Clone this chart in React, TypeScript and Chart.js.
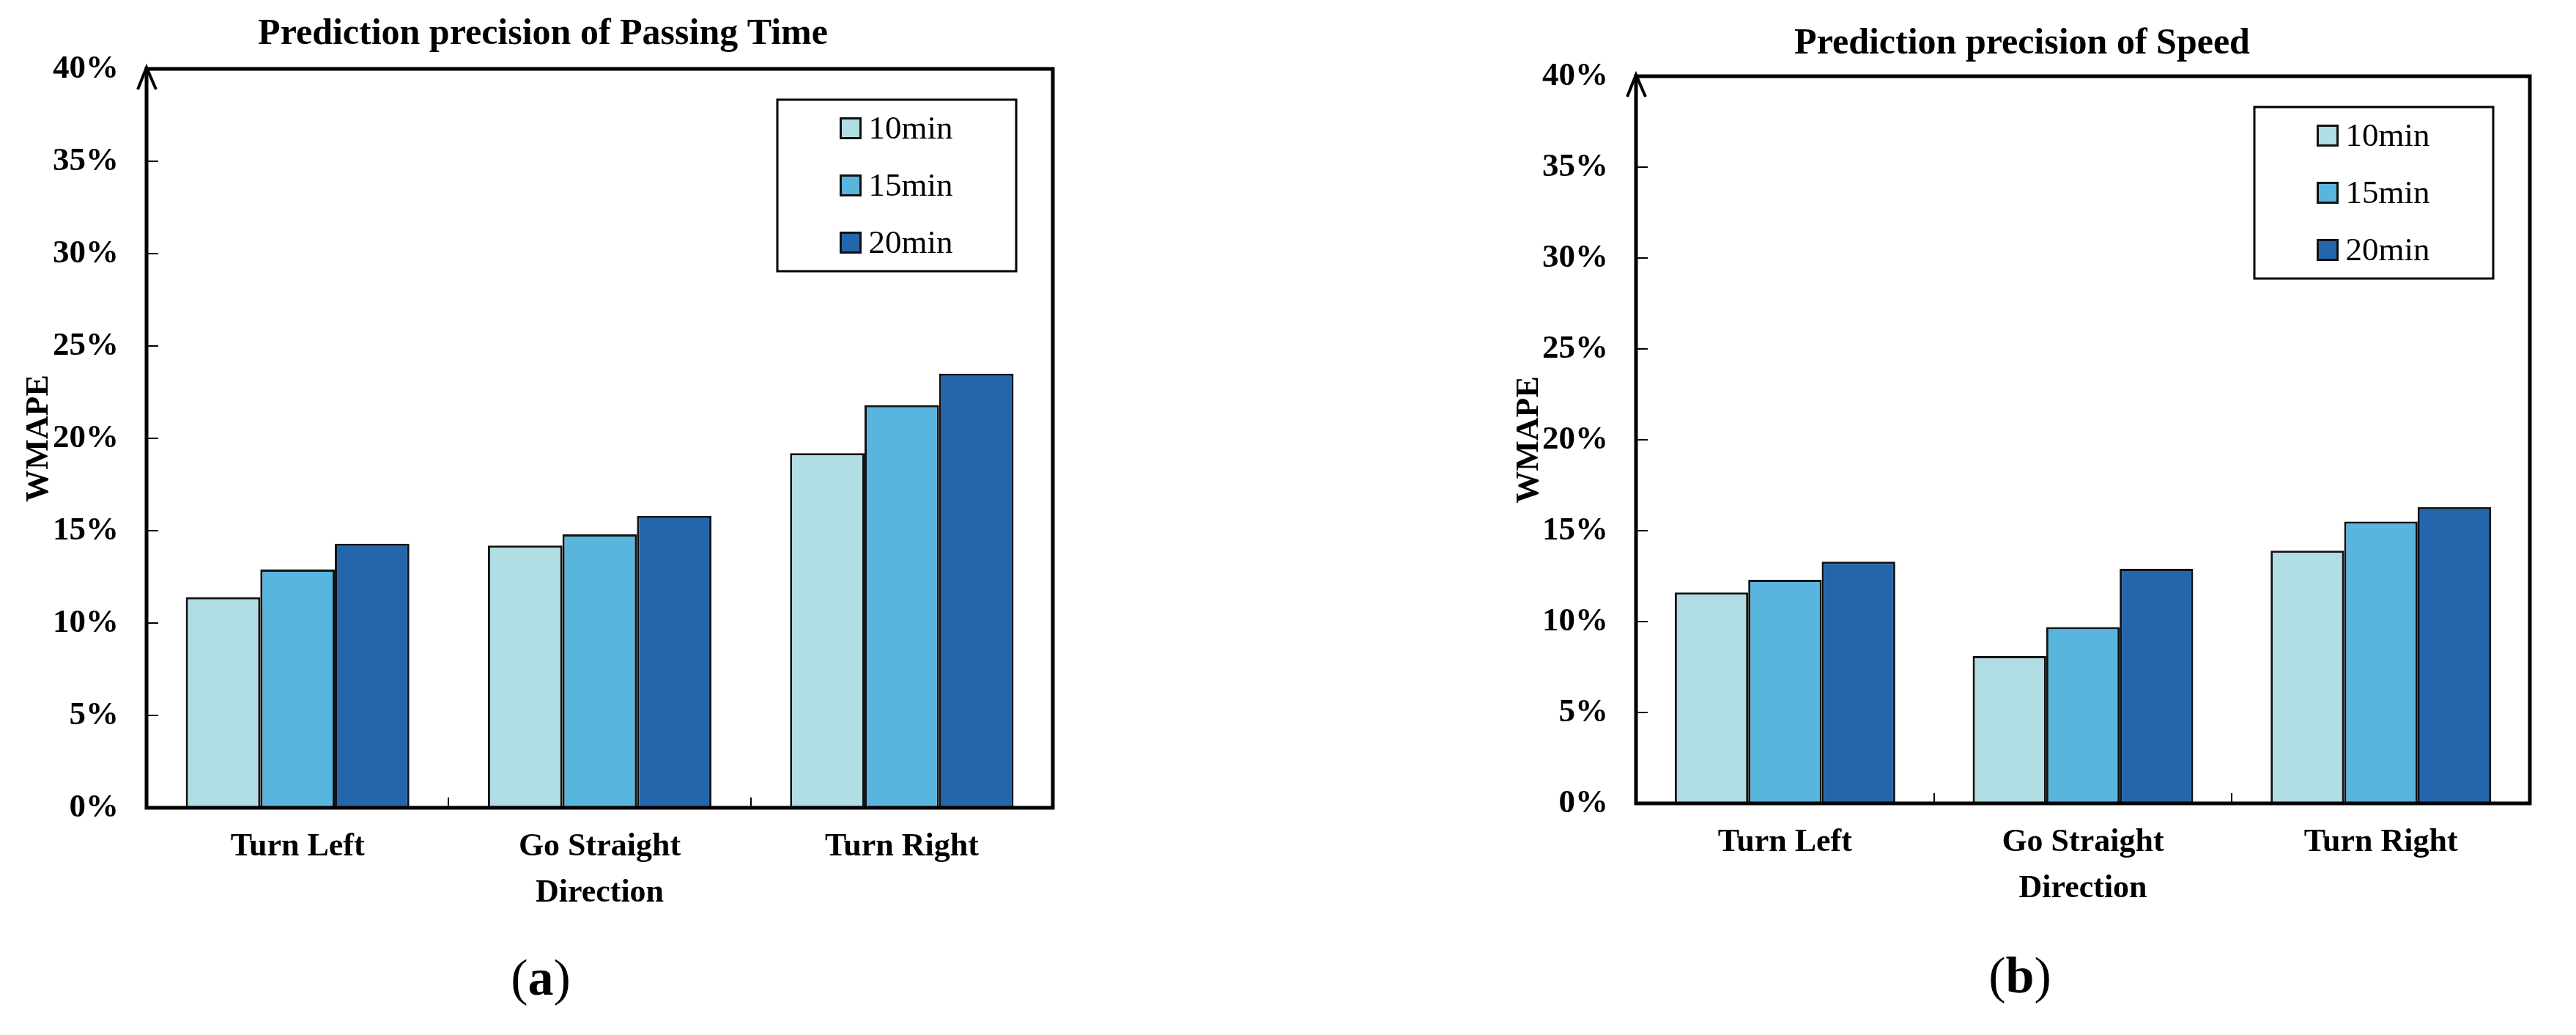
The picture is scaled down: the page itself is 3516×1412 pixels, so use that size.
import React, { useEffect, useRef } from "react";
import { Chart, registerables } from "chart.js";

Chart.register(...registerables);

// ---------------- data ----------------
const categories = ["Turn Left", "Go Straight", "Turn Right"];
const seriesLabels = ["10min", "15min", "20min"];
const seriesColors = ["#B0DEE4", "#58B5DE", "#2466AC"];

const passingTime10 = [11.4, 14.2, 19.2];
const passingTime15 = [12.9, 14.8, 21.8];
const passingTime20 = [14.3, 15.8, 23.5];

const speed10 = [11.6, 8.1, 13.9];
const speed15 = [12.3, 9.7, 15.5];
const speed20 = [13.3, 12.9, 16.3];

const yMin = 0;
const yMax = 40;
const yStep = 5;

const xAxisTitle = "Direction";
const yAxisTitle = "WMAPE";

// ---------------- styling ----------------
const SERIF = "'Liberation Serif', 'Times New Roman', Times, serif";

const framePlugin = {
  id: "frame",
  afterDatasetsDraw(chart: any) {
    const { ctx, chartArea } = chart;
    const { left, top, right, bottom } = chartArea;
    ctx.save();
    ctx.strokeStyle = "#000";
    ctx.lineWidth = 5;
    ctx.lineJoin = "miter";
    ctx.strokeRect(left, top, right - left, bottom - top);
    // arrow head on y axis
    ctx.lineWidth = 4;
    ctx.beginPath();
    ctx.moveTo(left - 12, top + 28);
    ctx.lineTo(left, top - 2);
    ctx.lineTo(left + 13, top + 28);
    ctx.stroke();
    ctx.restore();
  },
};

const innerLegendPlugin = {
  id: "innerLegend",
  afterDraw(chart: any, _args: any, opts: any) {
    const { ctx, chartArea } = chart;
    const boxW = opts.width;
    const rowH = opts.rowHeight;
    const datasets = chart.data.datasets;
    const boxH = rowH * datasets.length;
    const boxRight = chartArea.right - opts.rightGap;
    const boxLeft = boxRight - boxW;
    const boxTop = chartArea.top + opts.topGap;
    ctx.save();
    ctx.fillStyle = "#fff";
    ctx.fillRect(boxLeft, boxTop, boxW, boxH);
    ctx.strokeStyle = "#000";
    ctx.lineWidth = 3;
    ctx.strokeRect(boxLeft, boxTop, boxW, boxH);
    ctx.font = `${opts.fontSize}px ${SERIF}`;
    ctx.textBaseline = "middle";
    ctx.textAlign = "left";
    const marker = opts.marker;
    const gap = opts.gap;
    let maxText = 0;
    datasets.forEach((d: any) => {
      maxText = Math.max(maxText, ctx.measureText(d.label).width);
    });
    const contentW = marker + gap + maxText;
    const startX = boxLeft + (boxW - contentW) / 2;
    datasets.forEach((d: any, i: number) => {
      const cy = boxTop + rowH * (i + 0.5);
      ctx.fillStyle = d.backgroundColor;
      ctx.fillRect(startX, cy - marker / 2, marker, marker);
      ctx.lineWidth = 3;
      ctx.strokeStyle = "#111";
      ctx.strokeRect(startX, cy - marker / 2, marker, marker);
      ctx.fillStyle = "#000";
      ctx.fillText(d.label, startX + marker + gap, cy + 2);
    });
    ctx.restore();
  },
};

const captionPlugin = {
  id: "caption",
  afterDraw(chart: any, _args: any, opts: any) {
    const { ctx } = chart;
    const tb = chart.titleBlock;
    const cx = tb ? (tb.left + tb.right) / 2 + opts.dx : chart.width / 2;
    const size = opts.fontSize;
    const regular = `${size}px ${SERIF}`;
    const bold = `bold ${size}px ${SERIF}`;
    ctx.save();
    ctx.fillStyle = "#000";
    ctx.textBaseline = "alphabetic";
    ctx.textAlign = "left";
    ctx.font = regular;
    const wOpen = ctx.measureText("(").width;
    const wClose = ctx.measureText(")").width;
    ctx.font = bold;
    const wMid = ctx.measureText(opts.letter).width;
    let x = cx - (wOpen + wMid + wClose) / 2;
    ctx.font = regular;
    ctx.fillText("(", x, opts.baseline);
    x += wOpen;
    ctx.font = bold;
    ctx.fillText(opts.letter, x, opts.baseline);
    x += wMid;
    ctx.font = regular;
    ctx.fillText(")", x, opts.baseline);
    ctx.restore();
  },
};

type Panel = {
  title: string;
  series: number[][];
  letter: string;
  width: number;
  padL: number;
  padR: number;
  padBottom: number;
  yWidth: number;
  titlePadTop: number;
  titlePadBottom: number;
  yTitlePad: number;
  captionBaseline: number;
};

const leftPanel: Panel = {
  title: "Prediction precision of Passing Time",
  series: [passingTime10, passingTime15, passingTime20],
  letter: "a",
  width: 1500,
  padL: 45,
  padR: 63,
  padBottom: 165,
  yWidth: 155,
  titlePadTop: 17,
  titlePadBottom: 17,
  yTitlePad: -17.4,
  captionBaseline: 1357,
};

const rightPanel: Panel = {
  title: "Prediction precision of Speed",
  series: [speed10, speed15, speed20],
  letter: "b",
  width: 1758,
  padL: 309,
  padR: 63,
  padBottom: 171,
  yWidth: 166,
  titlePadTop: 30,
  titlePadBottom: 14,
  yTitlePad: -5.4,
  captionBaseline: 1354,
};

function makeConfig(p: Panel): any {
  const tickFont = { family: SERIF, size: 44, weight: "bold" as const, lineHeight: 1.2 };
  return {
    type: "bar",
    data: {
      labels: categories,
      datasets: p.series.map((d, i) => ({
        label: seriesLabels[i],
        data: d,
        backgroundColor: seriesColors[i],
        borderColor: "#111",
        borderWidth: 3,
        borderSkipped: "start",
        categoryPercentage: 0.74,
        barPercentage: 1.0,
      })),
    },
    options: {
      responsive: false,
      maintainAspectRatio: false,
      animation: false,
      devicePixelRatio: 1,
      layout: { padding: { left: p.padL, right: p.padR, top: 0, bottom: p.padBottom } },
      plugins: {
        legend: { display: false },
        tooltip: { enabled: false },
        title: {
          display: true,
          text: p.title,
          color: "#000",
          font: { family: SERIF, size: 50, weight: "bold", lineHeight: 1.2 },
          padding: { top: p.titlePadTop, bottom: p.titlePadBottom },
        },
        innerLegend: { width: 326, rowHeight: 78, rightGap: 50, topGap: 42, marker: 27, gap: 11, fontSize: 45 },
        caption: { letter: p.letter, baseline: p.captionBaseline, fontSize: 70, dx: -3 },
      },
      scales: {
        x: {
          type: "category",
          offset: true,
          grid: {
            display: true,
            drawOnChartArea: false,
            drawTicks: true,
            tickLength: -14,
            color: "#000",
            lineWidth: 2,
            offset: true,
          },
          border: { display: false },
          ticks: { color: "#000", font: tickFont, padding: 41.6, maxRotation: 0, minRotation: 0, autoSkip: false },
          title: { display: true, text: xAxisTitle, color: "#000", font: tickFont, padding: { top: 0, bottom: 2 } },
          afterFit: (s: any) => {
            s.height = 145;
          },
        },
        y: {
          min: yMin,
          max: yMax,
          grid: {
            display: true,
            drawOnChartArea: false,
            drawTicks: true,
            tickLength: -16,
            color: "#000",
            lineWidth: 2,
          },
          border: { display: false },
          ticks: {
            stepSize: yStep,
            color: "#000",
            font: { family: SERIF, size: 45, weight: "bold", lineHeight: 1.2 },
            padding: 54,
            callback: (v: any) => `${v}%`,
          },
          title: {
            display: true,
            text: yAxisTitle,
            color: "#000",
            font: tickFont,
            padding: { top: p.yTitlePad, bottom: 0 },
          },
          afterFit: (s: any) => {
            s.width = p.yWidth;
          },
        },
      },
    },
    plugins: [framePlugin, innerLegendPlugin, captionPlugin],
  };
}

export default function App() {
  const leftRef = useRef<HTMLCanvasElement | null>(null);
  const rightRef = useRef<HTMLCanvasElement | null>(null);

  useEffect(() => {
    const charts: Chart[] = [];
    if (leftRef.current) charts.push(new Chart(leftRef.current, makeConfig(leftPanel)));
    if (rightRef.current) charts.push(new Chart(rightRef.current, makeConfig(rightPanel)));
    return () => charts.forEach((c) => c.destroy());
  }, []);

  return (
    <div style={{ position: "absolute", left: 0, top: 0, width: 3516, height: 1412, background: "#fff", overflow: "hidden" }}>
      <canvas
        ref={leftRef}
        width={leftPanel.width}
        height={1412}
        style={{ position: "absolute", left: 0, top: 0, width: leftPanel.width, height: 1412 }}
      />
      <canvas
        ref={rightRef}
        width={rightPanel.width}
        height={1412}
        style={{ position: "absolute", left: 1758, top: 0, width: rightPanel.width, height: 1412 }}
      />
    </div>
  );
}
